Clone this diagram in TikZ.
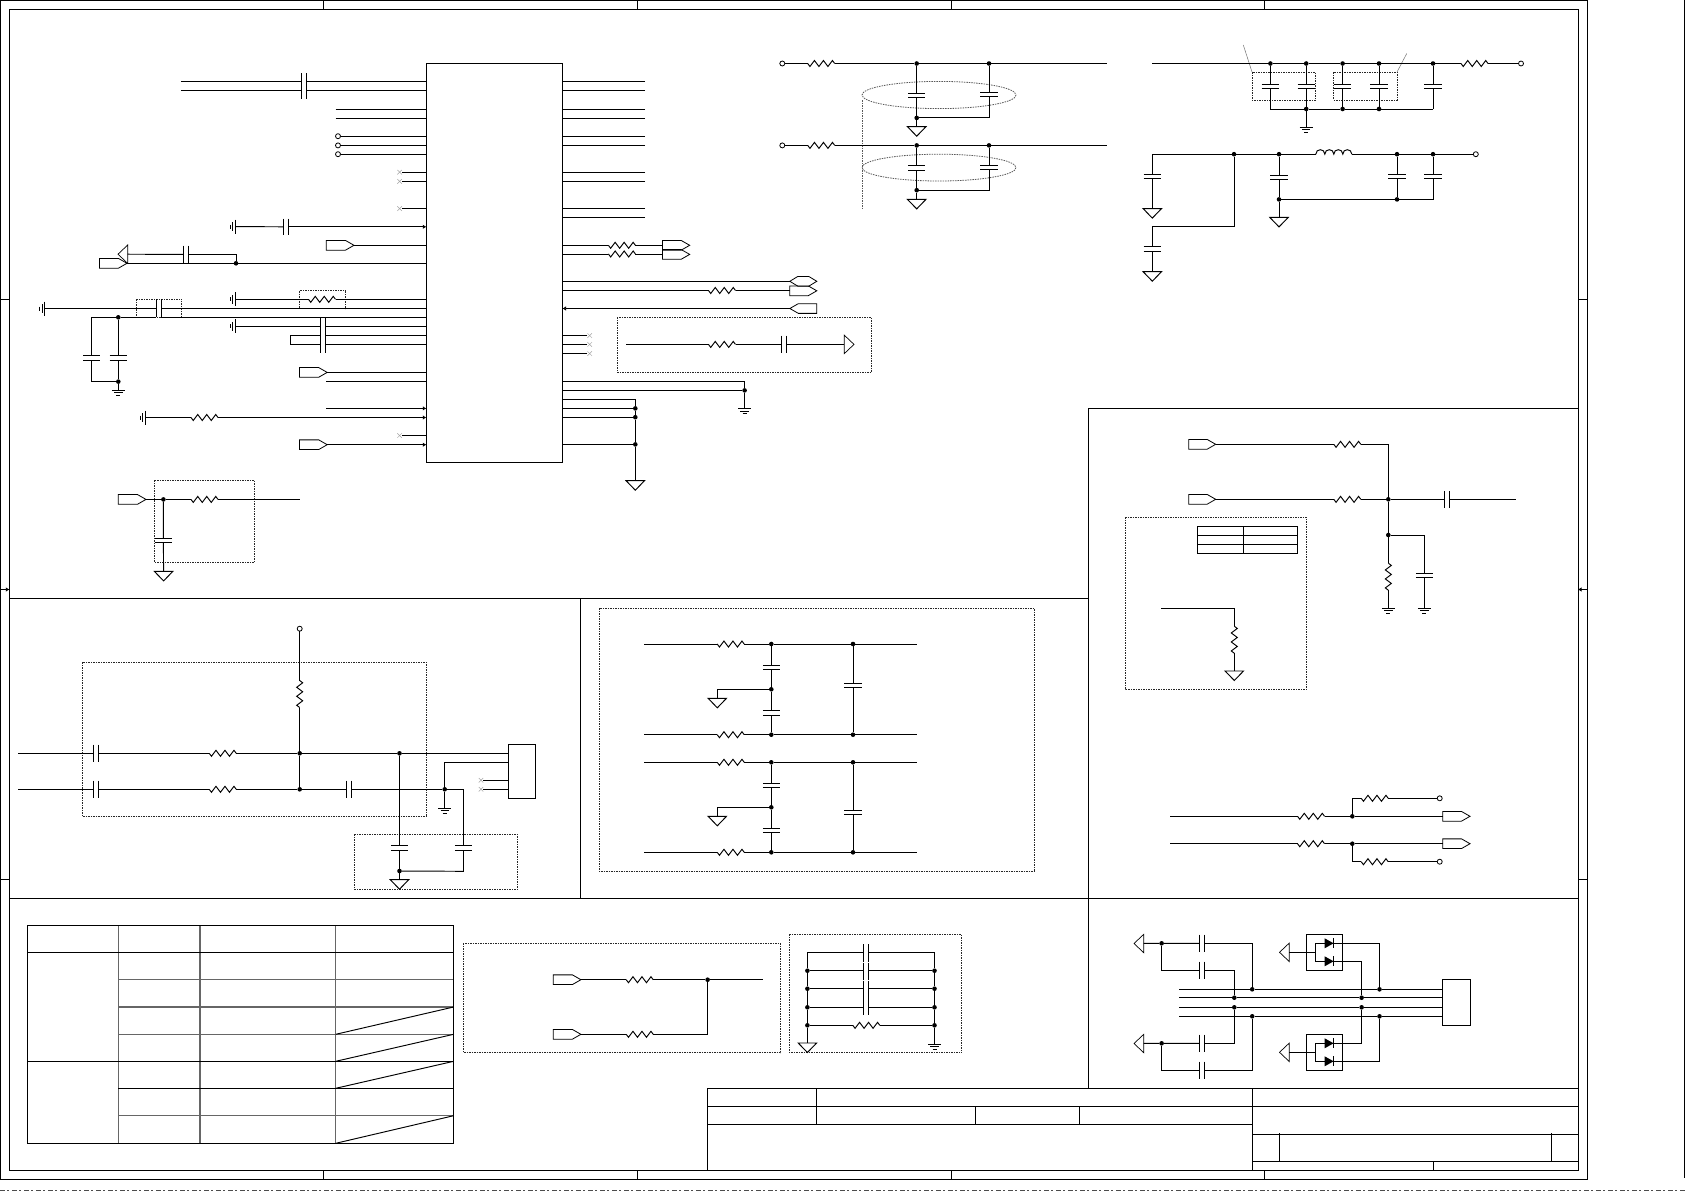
\documentclass[tikz,border=0pt]{standalone}
\usetikzlibrary{arrows.meta,shapes.misc}
\tikzset{
 wire/.style={line width=.95pt,black,line join=miter},
 pinarrow/.style={-{Latex[length=3.5pt,width=4.5pt]}},
 partbox/.style={inner sep=0,outer sep=0,rectangle,draw=none},
 junction/.style={circle,fill=black,draw=none,inner sep=0,outer sep=0,minimum size=4.6pt},
 opencirc/.style={circle,draw=black,fill=white,inner sep=0,outer sep=0,minimum size=5pt,line width=.8pt},
 graycross/.style={cross out,draw=black!35,line width=.5pt,minimum size=4.5pt,inner sep=0,outer sep=0},
 dashbox/.style={line width=.8pt,black!85,dash pattern=on 2pt off 1pt on 1pt off 1pt},
 guide/.style={line width=.8pt,black!65,dash pattern=on 1.5pt off 1pt},
 frameline/.style={line width=1pt,black},
 chipbox/.style={partbox,draw=black,line width=1pt},
 gridgray/.style={line width=1.1pt,black!60},
}
% resistors
\newcommand\zRH[3]{\node[partbox,minimum width=27pt,minimum height=7pt] (#1) at (#2,#3) {};
 \draw[wire,shift={(#2,#3)}] (-13.5,0)--(-11.25,3)--(-6.75,-3)--(-2.25,3)--(2.25,-3)--(6.75,3)--(11.25,-3)--(13.5,0);}
\newcommand\zRV[3]{\node[partbox,minimum width=7pt,minimum height=27pt] (#1) at (#2,#3) {};
 \draw[wire,shift={(#2,#3)}] (0,-13.5)--(3,-11.25)--(-3,-6.75)--(3,-2.25)--(-3,2.25)--(3,6.75)--(-3,11.25)--(0,13.5);}
% inductor
\newcommand\zLH[3]{\node[partbox,minimum width=36pt,minimum height=7pt] (#1) at (#2,#3) {};
 \draw[wire,shift={(#2,#3)}] (-18,0) .. controls (-18,-6) and (-9,-6) .. (-9,0) .. controls (-9,-6) and (0,-6) .. (0,0) .. controls (0,-6) and (9,-6) .. (9,0) .. controls (9,-6) and (18,-6) .. (18,0);}
% capacitors: H = wire horizontal, V = wire vertical
\newcommand\zCH[4]{\node[partbox,minimum width=5pt,minimum height=2*#4 pt] (#1) at (#2,#3) {};
 \draw[wire] (#2-2.5,#3-#4) -- (#2-2.5,#3+#4) (#2+2.5,#3-#4) -- (#2+2.5,#3+#4);}
\newcommand\zCV[4]{\node[partbox,minimum height=4.4pt,minimum width=2*#4 pt] (#1) at (#2,#3) {};
 \draw[wire] (#2-#4,#3-2.2) -- (#2+#4,#3-2.2) (#2-#4,#3+2.2) -- (#2+#4,#3+2.2);}
% dots, open terminals, crosses
\newcommand\zJ[3]{\node[junction] (#1) at (#2,#3) {};}
\newcommand\zT[3]{\node[opencirc] (#1) at (#2,#3) {};}
\newcommand\zX[3]{\node[graycross] (#1) at (#2,#3) {};}
% ground triangles
\newcommand\zGD[3]{\node[partbox,minimum width=18.5pt,minimum height=9.5pt] (#1) at (#2,#3+4.75) {};
 \draw[wire,shift={(#2,#3)}] (-9.2,0) -- (9.2,0) -- (0,9.5) -- cycle;}
\newcommand\zGL[3]{\node[partbox,minimum width=9.7pt,minimum height=18.4pt] (#1) at (#2+4.85,#3) {};
 \draw[wire,line width=.7pt,shift={(#2,#3)}] (9.7,-9.2) -- (9.7,9.2) -- (0,0) -- cycle;}
\newcommand\zGR[3]{\node[partbox,minimum width=9.7pt,minimum height=18.4pt] (#1) at (#2-4.85,#3) {};
 \draw[wire,line width=.7pt,shift={(#2,#3)}] (-9.7,-9.2) -- (-9.7,9.2) -- (0,0) -- cycle;}
% earth symbols
\newcommand\zE[3]{\node[partbox,minimum width=13pt,minimum height=6pt] (#1) at (#2,#3+3) {};
 \draw[wire,line width=.85pt,shift={(#2,#3)}] (-6.5,0) -- (6.5,0) (-4.2,2.6) -- (4.2,2.6) (-2,5.2) -- (2,5.2);}
\newcommand\zEL[3]{\node[partbox,minimum width=6pt,minimum height=14pt] (#1) at (#2-3,#3) {};
 \draw[wire,line width=.85pt,shift={(#2,#3)}] (0,-7) -- (0,7) (-2.5,-4.5) -- (-2.5,4.5) (-5,-2) -- (-5,2);}
% ports: left end, tip end, y
\newcommand\zPR[4]{\node[partbox,minimum width=#3pt-#2pt,minimum height=9.7pt] (#1) at ({(#2+#3)/2},#4) {};
 \draw[wire,line width=.8pt] (#2,#4-4.85) -- (#3-8.5,#4-4.85) -- (#3,#4) -- (#3-8.5,#4+4.85) -- (#2,#4+4.85) -- cycle;}
\newcommand\zPL[4]{\node[partbox,minimum width=#3pt-#2pt,minimum height=9.7pt] (#1) at ({(#2+#3)/2},#4) {};
 \draw[wire,line width=.8pt] (#3,#4-4.85) -- (#2+8.5,#4-4.85) -- (#2,#4) -- (#2+8.5,#4+4.85) -- (#3,#4+4.85) -- cycle;}
\newcommand\zPB[4]{\node[partbox,minimum width=#3pt-#2pt,minimum height=9.7pt] (#1) at ({(#2+#3)/2},#4) {};
 \draw[wire,line width=.8pt] (#2,#4) -- (#2+8,#4-4.85) -- (#3-8,#4-4.85) -- (#3,#4) -- (#3-8,#4+4.85) -- (#2+8,#4+4.85) -- cycle;}
% diode
\newcommand\zD[3]{\node[partbox,minimum width=9pt,minimum height=10pt] (#1) at (#2,#3) {};
 \fill[shift={(#2,#3)}] (-4.5,-5) -- (4.5,0) -- (-4.5,5) -- cycle;
 \draw[wire,shift={(#2,#3)}] (4.5,-5) -- (4.5,5);}
\newcommand\zB[4]{\draw[dashbox] (#1,#2) rectangle (#3,#4);}
% wire from a named point across to the chip sides
\newcommand\zPin[2][]{\draw[wire,#1] (#2) -- (#2 -| chip.west);}
\newcommand\zPinR[2][]{\draw[wire,#1] (#2) -- (#2 -| chip.east);}
\newcommand\zThru[2]{\draw[wire] (#1) -- (#1 -| #2.west) (#1 -| #2.east) -- (#1 -| chip.west);}
\begin{document}
\begin{tikzpicture}[x=1pt,y=-1pt]
\useasboundingbox (0,0) rectangle (1685,1191);
\fill[white] (0,0) rectangle (1685,1191);

% ---------- frame ----------
\draw[frameline] (.5,.5) rectangle (1587.6,1179.3);
\draw[frameline] (9.4,9.6) rectangle (1578,1170.3);
\foreach \x in {323.7,637,951,1264.3} {\draw[frameline] (\x,.5) -- (\x,9.6) (\x,1170.3) -- (\x,1179.3);}
\foreach \y in {299.3,879.8} {\draw[frameline] (.5,\y) -- (9.4,\y) (1578,\y) -- (1587.6,\y);}
\draw[wire,pinarrow] (.5,589.5) -- (9.4,589.5);
\draw[wire,pinarrow] (1587.6,589.5) -- (1578,589.5);
\draw[frameline] (1088,408.4) -- (1578,408.4) (1088,408.4) -- (1088,1088.3);
\draw[frameline] (9.4,598.4) -- (1088,598.4) (9.4,898.3) -- (1578,898.3) (580.4,598.4) -- (580.4,898.3);
% page edges
\draw[line width=1pt,black] (1684.2,0) -- (1684.2,1178);
\draw[line width=1pt,black!70,dash pattern=on 5pt off 2pt on 2pt off 3pt] (0,1190.5) -- (1685,1190.5);

% ---------- title block ----------
\draw[frameline] (707.6,1170.3) -- (707.6,1088.3) -- (1578,1088.3);
\draw[frameline] (707.6,1106.3) -- (1578,1106.3) (707.6,1124.3) -- (1252.2,1124.3);
\draw[frameline] (816.7,1088.3) -- (816.7,1124.3) (975.6,1106.3) -- (975.6,1124.3) (1079,1106.3) -- (1079,1124.3);
\draw[frameline] (1252.2,1088.3) -- (1252.2,1170.3);
\draw[frameline] (1252.2,1134.3) -- (1578,1134.3) (1252.2,1161.3) -- (1578,1161.3);
\draw[frameline] (1279.5,1133) -- (1279.5,1161.3) (1551.9,1133) -- (1551.9,1161.3) (1433.2,1161.3) -- (1433.2,1170.3);

% ---------- table ----------
\draw[gridgray] (118.3,925.3) -- (118.3,1143.3) (200,925.3) -- (200,1143.3) (335.7,925.3) -- (335.7,1143.3);
\draw[gridgray] (118.3,979.7) -- (453.6,979.7) (118.3,1007) -- (453.6,1007) (118.3,1034.3) -- (453.6,1034.3) (118.3,1115.7) -- (453.6,1115.7);
\draw[frameline] (27.2,925.3) rectangle (453.6,1143.3);
\draw[frameline] (27.2,952.3) -- (453.6,952.3) (27.2,1061.3) -- (453.6,1061.3) (118.3,1088.3) -- (453.6,1088.3);
\foreach \a/\b in {1007/1034.3,1034.3/1061.3,1061.3/1088.3,1115.7/1143.3} {\draw[wire] (335.7,\b) -- (453.6,\a);}

% ---------- dashed outlines ----------
\zB{299}{290.5}{345}{308.5}
\zB{136.6}{299.3}{181.7}{317.3}
\zB{617}{317.3}{871.5}{372.4}
\zB{154.5}{480.3}{254.5}{562.6}
\zB{1252}{72}{1315.6}{100}
\zB{1333.8}{72}{1397}{100}
\zB{1125.3}{517.3}{1306.7}{689.3}
\zB{82}{662.3}{426.7}{816.7}
\zB{354.4}{834.3}{517.8}{889.3}
\zB{599}{608.3}{1034.7}{871.7}
\zB{463}{943.3}{780.6}{1052.7}
\zB{789.2}{934.3}{961.7}{1052.7}
\draw[guide] (939,95) ellipse [x radius=77,y radius=13.6];
\draw[guide] (939,167.6) ellipse [x radius=77,y radius=13.4];
\draw[guide] (862,100) -- (862,207.8);
\draw[line width=.5pt,black!55] (1243.3,45) -- (1252,72) (1406.7,53.6) -- (1397,72);

% ---------- main chip ----------
\node[chipbox,minimum width=136.2pt,minimum height=398.8pt] (chip) at (494.4,262.9) {};

% left pins, plain
\foreach \n/\x/\y in {a/335.7/109.5,b/335.7/118.3,d/326.3/381.6} {\coordinate (L\n) at (\x,\y); \zPin{L\n}}
\coordinate (Le) at (326.3,408.4); \zPin[pinarrow]{Le}
\foreach \n/\y in {a/136.2,b/145.4,c/154.2} {\zT{To\n}{338}{\y} \zPin{To\n}}
\foreach \n/\y in {a/172.2,b/181.4,c/208.6,d/435.5} {\zX{Xl\n}{399.6}{\y} \zPin{Xl\n}}

% top left pair through one capacitor
\coordinate (La1) at (180.8,81.5); \coordinate (La2) at (180.8,90.3);
\zCH{cTop}{304.2}{85.9}{12.8}
\zThru{La1}{cTop} \zThru{La2}{cTop}

% y 226
\zEL{eA}{235}{226.6} \zCH{cA}{285.7}{226.8}{8.3}
\draw[wire] (eA) -- (cA); \draw[wire,pinarrow] (cA) -- (cA -| chip.west);
% y 245 / 263
\zPR{pB}{326.3}{354}{245.3} \zPin{pB}
\zPR{pC}{99.5}{127}{263.3} \zJ{jC}{236}{263.3}
\draw[wire] (pC) -- (jC) -- (jC -| chip.west);
\zGL{gC}{118}{254.2} \zCH{cC}{185.7}{254.4}{8.7}
\draw[wire] (gC) -- (cC); \draw[wire] (cC) -| (jC);
% y 299
\zEL{eD}{235}{299.3} \zRH{rD}{322}{299.3}
\draw[wire] (eD) -- (rD) -- (rD -| chip.west);
% y 308 / 317
\zEL{eE}{44.6}{308.5} \zCH{cE}{158.5}{308.3}{9}
\draw[wire] (eE) -- (eE -| cE.west) (eE -| cE.east) -- (eE -| chip.west);
\coordinate (kT) at (91.5,317.3); \zJ{jT}{118.3}{317.3}
\draw[wire] (kT) -- (jT) -- (jT -| cE.west) (jT -| cE.east) -- (jT -| chip.west);
\zCV{cF}{91.5}{358}{8.5} \zCV{cG}{118.3}{358}{8.7}
\coordinate (kB) at (91.5,381.6); \zJ{jB}{118.3}{381.6}
\zE{eF}{118.3}{390}
\draw[wire] (kT) -- (cF) -- (kB) -- (jB) -- (cG) -- (jT); \draw[wire] (jB) -- (eF);
% y 326 / 335 / 344
\zEL{eH}{235}{326.4} \zCH{cH}{322.8}{335.3}{18}
\draw[wire] (eH) -- (eH -| cH.west) (eH -| cH.east) -- (eH -| chip.west);
\coordinate (k1) at (290.6,335.6); \coordinate (k2) at (290.6,344.4);
\draw[wire] (k1 -| cH.west) -- (k1) -- (k2) -- (k2 -| cH.west) (k1 -| cH.east) -- (k1 -| chip.west) (k2 -| cH.east) -- (k2 -| chip.west);
% lower left pins
\zPR{pJ}{299.5}{327.2}{372.4} \zPin{pJ}
\zEL{eK}{145}{417.5} \zRH{rK}{204.5}{417.5}
\draw[wire] (eK) -- (rK); \draw[wire,pinarrow] (rK) -- (rK -| chip.west);
\zPR{pL}{299.5}{327.2}{444.7} \zPin[pinarrow]{pL}

% right pins, plain
\foreach \n/\y in {a/81.5,b/90.3,c/109.5,d/118.3,e/136.2,f/145.4,g/172.2,h/181.4,i/208.6,j/217.4} {\coordinate (R\n) at (645,\y); \zPinR{R\n}}
\foreach \n/\y in {a/335.6,b/344.4,c/353.6} {\zX{Xr\n}{589.7}{\y} \zPinR{Xr\n}}
% right resistors and ports
\zRH{rA}{621.9}{245.3} \zPR{pA1}{662.5}{689.7}{245.3} \draw[wire] (rA -| chip.east) -- (rA) -- (pA1);
\zRH{rB}{621.9}{254} \zPR{pA2}{662.5}{689.7}{254.4} \draw[wire] (rB -| chip.east) -- (rB) -- (rB -| pA2.west);
\zPB{pD}{789.8}{816.8}{281.3} \zPinR{pD}
\zRH{rE}{722}{290.5} \zPR{pE}{789.8}{816.8}{290.8} \draw[wire] (rE -| chip.east) -- (rE) -- (rE -| pE.west);
\zPL{pF}{789.8}{816.8}{308.5} \zPinR[pinarrow]{pF}
% inside right dashed box
\coordinate (Qa) at (626,344.4); \zRH{rQ}{722}{344.4} \zCH{cQ}{784}{344.4}{8.8} \zGR{gQ}{854}{344.4}
\draw[wire] (Qa) -- (rQ) -- (cQ) -- (gQ);
% y 381 / 390
\coordinate (kS) at (744.6,381.6); \zJ{jS}{744.6}{390.4} \zE{eS}{744.6}{408.7}
\draw[wire] (kS -| chip.east) -- (kS) -- (jS) -- (eS); \zPinR{jS}
% bus to ground
\coordinate (kU) at (635.3,399.6); \zJ{jU1}{635.3}{408.4} \zJ{jU2}{635.3}{417.2} \zJ{jU3}{635.3}{444.4} \zGD{gU}{635.3}{480.7}
\draw[wire] (kU -| chip.east) -- (kU) -- (jU1) -- (jU2) -- (jU3) -- (gU);
\zPinR{jU1} \zPinR{jU2} \zPinR{jU3}

% lower left fragment
\zPR{pV}{118.3}{146}{499.4} \zJ{jV}{163.4}{499.4} \zRH{rV}{204.5}{499.4} \coordinate (eV) at (300,499.4);
\draw[wire] (pV) -- (jV) -- (rV) -- (eV);
\zCV{cV}{163.4}{540.4}{8.8} \zGD{gV}{163.6}{571.4}
\draw[wire] (jV) -- (cV) -- (gV);

% ---------- top middle filters ----------
\foreach \n/\y/\cap/\capb/\bot/\tri in {A/63.5/95.7/94.7/117.9/126.7,B/145.4/168/167.3/190.2/199.4} {
 \zT{tF\n}{782.3}{\y} \zRH{rF\n}{821.2}{\y} \zJ{jF\n}{916.7}{\y} \zJ{jG\n}{989}{\y}
 \coordinate (eF\n) at (1107,\y);
 \draw[wire] (tF\n) -- (rF\n) -- (jF\n) -- (jG\n) -- (eF\n);
 \zCV{cF\n}{916.7}{\cap}{8.7} \zCV{cG\n}{989}{\capb}{8.7}
 \zJ{jH\n}{916.7}{\bot} \zGD{gH\n}{916.7}{\tri}
 \draw[wire] (jF\n) -- (cF\n) -- (jH\n) -- (gH\n);
 \draw[wire] (jG\n) -- (cG\n); \draw[wire] (cG\n) |- (jH\n);
}

% ---------- top right filters ----------
\coordinate (wA) at (1152.3,63.5);
\zJ{jA1}{1270.4}{63.5} \zJ{jA2}{1306.2}{63.5} \zJ{jA3}{1342.6}{63.5} \zJ{jA4}{1379}{63.5} \zJ{jA5}{1433}{63.5}
\zRH{rW}{1474.5}{63.5} \zT{tW}{1521}{63.5}
\draw[wire] (wA) -- (jA1) -- (jA2) -- (jA3) -- (jA4) -- (jA5) -- (rW) -- (tW);
\coordinate (bA1) at (1270.4,109); \zJ{bA2}{1306.2}{109} \zJ{bA3}{1342.6}{109} \zJ{bA4}{1379}{109} \coordinate (bA5) at (1433,109);
\draw[wire] (bA1) -- (bA2) -- (bA3) -- (bA4) -- (bA5);
\foreach \i/\x in {1/1270.4,2/1306.2,3/1342.6,4/1379,5/1433} {
 \zCV{cW\i}{\x}{86.3}{8.7}
 \draw[wire] (jA\i) -- (cW\i) -- (bA\i);
}
\zE{eW}{1306.2}{127} \draw[wire] (bA2) -- (eW);

\coordinate (wB) at (1152.3,154.2);
\zJ{jB1}{1234}{154.2} \zJ{jB2}{1279}{154.2} \zLH{lB}{1333.8}{154.2} \zJ{jB3}{1397}{154.2} \zJ{jB4}{1433}{154.2} \zT{tB}{1475.8}{154.2}
\draw[wire] (wB) -- (jB1) -- (jB2) -- (lB) -- (jB3) -- (jB4) -- (tB);
\zCV{cB1}{1152.3}{176.4}{8.7} \zGD{gB1}{1152.3}{208.6}
\draw[wire] (wB) -- (cB1) -- (gB1);
\coordinate (kB1) at (1152.3,226.6);
\zCV{cB2}{1152.3}{249}{8.7} \zGD{gB2}{1152.3}{271.7}
\draw[wire] (jB1) |- (kB1) -- (cB2) -- (gB2);
\zCV{cB3}{1279}{177.2}{8.7} \zJ{dB3}{1279}{199.4} \zGD{gB3}{1279}{217.4}
\draw[wire] (jB2) -- (cB3) -- (dB3) -- (gB3);
\zCV{cB4}{1397}{176.4}{8.7} \zJ{dB4}{1397}{199.4}
\zCV{cB5}{1433}{176.4}{8.7} \coordinate (dB5) at (1433,199.4);
\draw[wire] (jB3) -- (cB4) -- (dB4); \draw[wire] (jB4) -- (cB5) -- (dB5) -- (dB4) -- (dB3);

% ---------- right middle section ----------
\zPR{pM}{1188.7}{1215.7}{444.3} \zRH{rM}{1347.3}{444.3} \coordinate (kM) at (1388.3,444.3);
\zPR{pN}{1188.7}{1215.7}{499.3} \zRH{rN}{1347.3}{499.3} \zJ{jN}{1388.3}{499.3}
\zCH{cN}{1447}{499.3}{8.5} \coordinate (eN) at (1515.7,499.3);
\draw[wire] (pM) -- (rM) -- (kM) -- (jN);
\draw[wire] (pN) -- (rN) -- (jN) -- (cN) -- (eN);
\zJ{jO}{1388.3}{535} \zRV{rO}{1388.3}{576.7} \zE{eO}{1388.3}{608.3}
\draw[wire] (jN) -- (jO) -- (rO) -- (eO);
\zCV{cO}{1424.3}{575.7}{8.4} \zE{eO2}{1424.3}{608.3}
\draw[wire] (jO) -| (cO); \draw[wire] (cO) -- (eO2);
% small table
\draw[frameline] (1197.3,526.3) rectangle (1297.7,553.3) (1197.3,535.3) -- (1297.7,535.3) (1197.3,544.3) -- (1297.7,544.3) (1243.3,526.3) -- (1243.3,553.3);
\coordinate (kP) at (1161,608.3); \zRV{rP}{1234.3}{639.7} \zGD{gP}{1234.3}{671}
\draw[wire] (kP) -| (rP); \draw[wire] (rP) -- (gP);
% lower pair
\coordinate (kQ1) at (1170,816.3); \zRH{rQ1}{1311}{816.3} \zJ{jQ1}{1352.3}{816.3} \zPR{pQ1}{1442.7}{1470}{816.3}
\draw[wire] (kQ1) -- (rQ1) -- (jQ1) -- (pQ1);
\zRH{rQ2}{1374.7}{798.3} \zT{tQ2}{1439.7}{798.3}
\draw[wire] (jQ1) |- (rQ2); \draw[wire] (rQ2) -- (tQ2);
\coordinate (kQ3) at (1170,843.7); \zRH{rQ3}{1311}{843.7} \zJ{jQ3}{1352.3}{843.7} \zPR{pQ3}{1442.7}{1470}{843.7}
\draw[wire] (kQ3) -- (rQ3) -- (jQ3) -- (pQ3);
\zRH{rQ4}{1374.7}{861.7} \zT{tQ4}{1439.7}{861.7}
\draw[wire] (jQ3) |- (rQ4); \draw[wire] (rQ4) -- (tQ4);

% ---------- lower left section ----------
\node[chipbox,minimum width=27.2pt,minimum height=54pt] (cnA) at (522.2,771.3) {};
\zT{tS}{299.7}{628.7} \zRV{rS}{299.7}{694} \zJ{jS1}{299.7}{753.3} \zJ{jS2}{299.7}{789.3}
\draw[wire] (tS) -- (rS) -- (jS1) -- (jS2);
\coordinate (aS1) at (18,753.3); \coordinate (aS2) at (18,789.3);
\zCH{cS1}{96}{753.3}{8.7} \zCH{cS2}{96}{789.3}{8.7}
\zRH{rS1}{222.7}{753.3} \zRH{rS2}{222.7}{789.3}
\zJ{jS3}{399.5}{753.3} \zCH{cS3}{349}{789.3}{8.7}
\zJ{jS4}{444.7}{789.3} \coordinate (kS4) at (463.5,789.3);
\draw[wire] (aS1) -- (cS1) -- (rS1) -- (jS1) -- (jS3) -- (jS3 -| cnA.west);
\draw[wire] (aS2) -- (cS2) -- (rS2) -- (jS2) -- (cS3) -- (jS4) -- (kS4);
\coordinate (kS5) at (508.6,762.7);
\draw[wire] (jS4) |- (kS5);
\zE{eS4}{444.7}{808.3} \draw[wire] (jS4) -- (eS4);
\zX{xS1}{481}{780.3} \zX{xS2}{481}{789.3}
\draw[wire] (xS1) -- (xS1 -| cnA.west); \draw[wire] (xS2) -- (xS2 -| cnA.west);
\zCV{cS5}{399.5}{848}{8.6} \zCV{cS6}{463.5}{848}{8.7} \zJ{jS5}{399.5}{871}
\coordinate (kS6) at (463.5,871.3);
\zGD{gS5}{399.5}{879.7}
\draw[wire] (jS3) -- (cS5) -- (jS5) -- (gS5);
\draw[wire] (kS4) -- (cS6) -- (kS6) -- (jS5);

% ---------- centre filter section ----------
\foreach \n/\ya/\yb/\ca/\jm/\cb/\cc/\tri in {A/644/734.7/667.3/689.3/712.8/685.7/698.3,B/762.3/852.3/785.3/807.3/830.3/812.3/816.3} {
 \coordinate (mA\n) at (644,\ya); \coordinate (mB\n) at (644,\yb);
 \coordinate (mC\n) at (916.7,\ya); \coordinate (mD\n) at (916.7,\yb);
 \zRH{mR\n}{730.7}{\ya} \zRH{mS\n}{730.7}{\yb}
 \zJ{mJ\n}{771.3}{\ya} \zJ{mK\n}{853}{\ya} \zJ{mL\n}{771.3}{\yb} \zJ{mM\n}{853}{\yb}
 \draw[wire] (mA\n) -- (mR\n) -- (mJ\n) -- (mK\n) -- (mC\n);
 \draw[wire] (mB\n) -- (mS\n) -- (mL\n) -- (mM\n) -- (mD\n);
 \zCV{mP\n}{771.3}{\ca}{8.5} \zCV{mQ\n}{771.3}{\cb}{8.5} \zCV{mT\n}{853}{\cc}{8.7}
 \zJ{mN\n}{771.3}{\jm} \zGD{mG\n}{717.3}{\tri}
 \draw[wire] (mJ\n) -- (mP\n) -- (mN\n) -- (mQ\n) -- (mL\n);
 \draw[wire] (mK\n) -- (mT\n) -- (mM\n);
 \draw[wire] (mN\n) -| (mG\n);
}

% ---------- bottom middle ----------
\zPR{pX1}{553.3}{580.9}{979.7} \zRH{rX1}{639.7}{979.7} \zJ{jX}{707.6}{979.7} \coordinate (eX) at (762.7,979.7);
\draw[wire] (pX1) -- (rX1) -- (jX) -- (eX);
\zPR{pX2}{553.3}{580.9}{1034.3} \zRH{rX2}{639.7}{1034.3}
\draw[wire] (pX2) -- (rX2); \draw[wire] (rX2) -| (jX);

% capacitor ladder
\coordinate (yL0) at (807.4,952.7); \coordinate (yR0) at (934.5,952.7);
\foreach \i/\y in {1/970.7,2/988.7,3/1007.3,4/1025.3} {\zJ{yL\i}{807.4}{\y} \zJ{yR\i}{934.5}{\y}}
\foreach \i/\y/\c in {0/952.7/953,1/970.7/971.2,2/988.7/989.3,3/1007.3/1006.7} {
 \zCH{yC\i}{866.3}{\c}{8.7}
 \draw[wire] (yL\i) -- (yL\i -| yC\i.west) (yL\i -| yC\i.east) -- (yR\i);
}
\zRH{yR}{866.3}{1025.3} \draw[wire] (yL4) -- (yR) -- (yR4);
\zGD{yG}{807.4}{1043} \zE{yE}{934.5}{1044}
\draw[wire] (yL0) -- (yL1) -- (yL2) -- (yL3) -- (yL4) -- (yG);
\draw[wire] (yR0) -- (yR1) -- (yR2) -- (yR3) -- (yR4) -- (yE);

% ---------- bottom right section ----------
\node[chipbox,minimum width=28pt,minimum height=46.4pt] (cnB) at (1456.5,1002.5) {};
\foreach \n/\y in {a/989.3,b/997.7,c/1007.3,d/1016.3} {\coordinate (bus\n) at (1179,\y);}
\zJ{q1}{1252.2}{989.3} \zJ{q2}{1234.3}{997.7} \zJ{q3}{1234.3}{1007.3} \zJ{q4}{1252.2}{1016.3}
\zJ{q5}{1379.5}{989.3} \zJ{q6}{1361.6}{997.7} \zJ{q7}{1361.6}{1007.3} \zJ{q8}{1379.5}{1016.3}
\draw[wire] (busa) -- (q1) -- (q5) -- (q5 -| cnB.west);
\draw[wire] (busb) -- (q2) -- (q6) -- (q6 -| cnB.west);
\draw[wire] (busc) -- (q3) -- (q7) -- (q7 -| cnB.west);
\draw[wire] (busd) -- (q4) -- (q8) -- (q8 -| cnB.west);
% capacitors with side grounds
\zGL{gT1}{1134}{943.5} \zJ{jT1}{1161.6}{943.3} \zCH{cT1}{1201.9}{943.3}{8.7} \zCH{cT2}{1201.9}{970.3}{8.7}
\coordinate (kT2) at (1161.6,970.3);
\draw[wire] (gT1) -- (jT1) -- (cT1); \draw[wire] (cT1) -| (q1);
\draw[wire] (jT1) -- (kT2) -- (cT2); \draw[wire] (cT2) -| (q2);
\zGL{gT3}{1134}{1043.5} \zJ{jT3}{1161.6}{1043.3} \zCH{cT3}{1201.9}{1043.3}{8.7} \zCH{cT4}{1201.9}{1070.3}{8.7}
\coordinate (kT4) at (1161.6,1070.3);
\draw[wire] (gT3) -- (jT3) -- (cT3); \draw[wire] (cT3) -| (q3);
\draw[wire] (jT3) -- (kT4) -- (cT4); \draw[wire] (cT4) -| (q4);
% diode packs
\foreach \n/\yt/\ya/\yb/\tgt/\tgb in {U/934.3/943.3/961.3/q5/q6,V/1034.3/1043.3/1061.3/q7/q8} {
 \node[chipbox,minimum width=36.2pt,minimum height=36.4pt] (dP\n) at (1324.4,\yt+18.2) {};
 \zD{dA\n}{1329.1}{\ya} \zD{dB\n}{1329.1}{\yb}
 \zGL{dG\n}{1279.5}{\yt+18} 
 \coordinate (dJ\n) at (1315.3,\yt+18);
 \coordinate (dL\n) at (1315.3,\ya); \coordinate (dM\n) at (1315.3,\yb);
 \draw[wire] (dG\n) -- (dJ\n);
 \draw[wire] (dA\n) -- (dL\n) -- (dM\n) -- (dB\n);
}
\draw[wire] (dAU) -| (q5); \draw[wire] (dBU) -| (q6);
\draw[wire] (dAV) -| (q7); \draw[wire] (dBV) -| (q8);
\end{tikzpicture}
\end{document}
